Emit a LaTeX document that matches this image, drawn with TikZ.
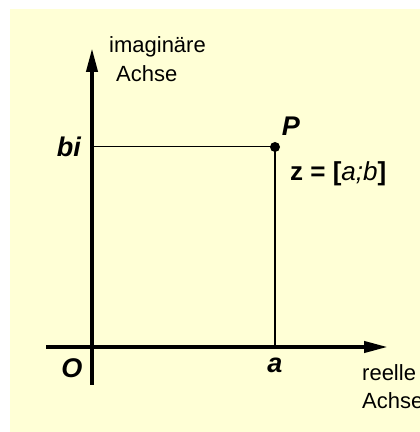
\documentclass[tikz,border=0pt]{standalone}
\usepackage{fontspec}
\setmainfont{Liberation Sans}
\usetikzlibrary{arrows.meta}
\definecolor{bgyellow}{HTML}{FFFFD6}
\begin{document}
\begin{tikzpicture}[x=1pt,y=1pt,
  axis/.style={line width=4pt,-{Triangle[length=24pt,width=11pt]}},
  thinline/.style={line width=1pt},
  midline/.style={line width=2pt},
  lbl/.style={inner sep=0pt,font=\fontsize{22}{26}\selectfont},
  mathlbl/.style={inner sep=0pt,font=\fontsize{27}{32}\selectfont\bfseries\itshape}]
\useasboundingbox (0,0) rectangle (420,432);
\fill[bgyellow] (10,0) rectangle (420,423);
% axes end points
\coordinate (vbot) at (92,47);
\coordinate (vtop) at (92,384);
\coordinate (hleft) at (46,85);
\coordinate (hright) at (388,85);
\coordinate (bi0) at (92,285);
\coordinate (a0) at (275,85);
\node[circle,fill=black,inner sep=0pt,minimum size=10pt] (P) at (275,285) {};
\draw[axis] (vbot) -- (vtop);
\draw[axis] (hleft) -- (hright);
\draw[thinline] (bi0) -- (P.center);
\draw[midline] (P.center) -- (a0);
% labels
\node[lbl,anchor=west] (im) at (109,385) {imaginäre};
\node[lbl,anchor=west] (ach1) at (116,358) {Achse};
\node[lbl,anchor=west] (re) at (362,59) {reelle};
\node[lbl,anchor=west] (ach2) at (362,31) {Achse};
\node[mathlbl,anchor=east] (bi) at (81,285) {bi};
\node[mathlbl] (Plbl) at (291,306) {P};
\node[mathlbl] (O) at (72,64) {O};
\node[mathlbl] (alb) at (275,67) {a};
\node[inner sep=0pt,anchor=base west,font=\fontsize{26}{30}\selectfont\bfseries] (z) at (290,251) {z = [\textmd{\textit{a;b}}]};
\end{tikzpicture}
\end{document}
